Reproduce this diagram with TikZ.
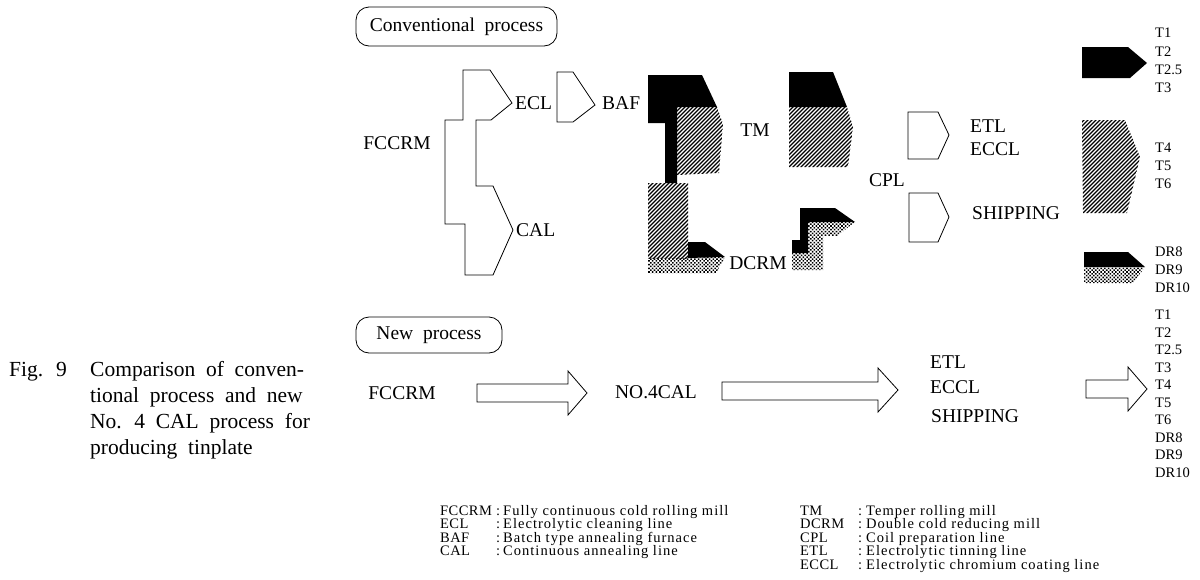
\documentclass[tikz,border=0pt]{standalone}
\usepackage{fontspec}
\setmainfont{Liberation Serif}
\usetikzlibrary{patterns,patterns.meta}
\newcommand\hatchfill[1]{%
  \begin{scope}
    \clip #1;
    \foreach \k in {780,784,...,1340}
      \draw[line width=1.3pt] (\k-300,300) -- (\k,0);
  \end{scope}}
\newcommand\capfont{\fontsize{21.5}{24}\selectfont\spaceskip=0.5em plus 0.1em\relax}
\newcommand\legfont{\fontsize{14.5}{16}\selectfont\addfontfeature{LetterSpace=7}}
\newcommand\legabbr{\fontsize{14.5}{16}\selectfont\addfontfeature{LetterSpace=3}}
\begin{document}
\begin{tikzpicture}[x=1pt,y=-1pt,
  lbl/.style={inner sep=0pt, font=\fontsize{19.5}{22}\selectfont},
  sm/.style={inner sep=0pt, anchor=west, font=\fontsize{14.5}{16}\selectfont},
  leg/.style={inner sep=0pt, anchor=base west, font=\legfont},
  legab/.style={inner sep=0pt, anchor=base west, font=\legabbr},
  captext/.style={inner sep=0pt, anchor=base west, font=\capfont},
  outl/.style={draw=black, line width=0.8pt, line join=miter},
  dotsq/.style={pattern={Dots[distance=2.6pt, radius=1.1pt, angle=45]}},
  blk/.style={fill=black}]
\useasboundingbox (0,0) rectangle (1200,579);

% ---------------- Conventional process ----------------
\draw[line width=0.8pt, rounded corners=13pt] (356,7) rectangle (557,46);
\node[lbl] (conv) at (456.5,27) {Conventional\ \ process};

\node[lbl] (fccrm1) at (397,143) {FCCRM};
\draw[outl] (463,70) -- (490,70) -- (512,103) -- (491,120) -- (476,120) -- (476,186)
  -- (493,186) -- (513,230) -- (493,275) -- (465,275) -- (465,224) -- (445,224)
  -- (445,120) -- (463,120) -- cycle;
\node[lbl, anchor=west] (ecl) at (515,103) {ECL};
\node[lbl, anchor=west] (cal) at (516,230) {CAL};
\draw[outl] (557,72) -- (573,72) -- (595,105) -- (573,122) -- (557,122) -- cycle;
\node[lbl, anchor=west] (baf) at (602,103) {BAF};

% BAF output shape
\fill[blk] (648,75) -- (702,75) -- (717,107) -- (677,107) -- (677,183) -- (665,183) -- (665,123) -- (648,123) -- cycle;
\hatchfill{(677,107) -- (717,107) -- (723,124) -- (719,173) -- (677,175) -- cycle}
\hatchfill{(648,183) -- (688,183) -- (688,258) -- (648,258) -- cycle}
\fill[blk] (688,242) -- (705,242) -- (725,257) -- (688,258) -- cycle;
\fill[dotsq] (648,258) -- (725,257) -- (716,273) -- (648,273) -- cycle;

\node[lbl] (tm) at (755,130) {TM};
\fill[blk] (789,72) -- (833,72) -- (847,107) -- (789,107) -- cycle;
\hatchfill{(789,107) -- (847,107) -- (853,127) -- (848,167) -- (789,167) -- cycle}

\node[lbl] (dcrm) at (758,263) {DCRM};
\fill[blk] (800,208) -- (835,208) -- (855,222) -- (808,222) -- (808,253) -- (792,253) -- (792,240) -- (800,240) -- cycle;
\fill[dotsq] (808,222) -- (855,222) -- (837,236) -- (823,236) -- (823,270) -- (792,270) -- (792,253) -- (808,253) -- cycle;

\node[lbl] (cpl) at (887,180) {CPL};
\draw[outl] (908,112) -- (938,112) -- (949,135) -- (938,159) -- (908,159) -- cycle;
\draw[outl] (909,193) -- (938,193) -- (949,217) -- (938,242) -- (909,242) -- cycle;
\node[lbl, anchor=west] (etl1) at (970,126) {ETL};
\node[lbl, anchor=west] (eccl1) at (970,149) {ECCL};
\node[lbl, anchor=west] (ship1) at (972,213) {SHIPPING};

% right products
\fill[blk] (1082,47) -- (1128,47) -- (1147,63) -- (1130,78) -- (1082,78) -- cycle;
\node[sm] (t1a) at (1155,33) {T1};
\node[sm] (t2a) at (1155,52) {T2};
\node[sm] (t25a) at (1155,70) {T2.5};
\node[sm] (t3a) at (1155,88) {T3};
\hatchfill{(1082,120) -- (1125,120) -- (1140,157) -- (1127,213) -- (1083,213) -- cycle}
\node[sm] (t4a) at (1155,148) {T4};
\node[sm] (t5a) at (1155,166) {T5};
\node[sm] (t6a) at (1155,184) {T6};
\fill[blk] (1084,252) -- (1128,252) -- (1145,267) -- (1084,267) -- cycle;
\fill[dotsq] (1084,267) -- (1145,267) -- (1133,283) -- (1084,283) -- cycle;
\node[sm] (dr8a) at (1155,252) {DR8};
\node[sm] (dr9a) at (1155,270) {DR9};
\node[sm] (dr10a) at (1155,288) {DR10};

% ---------------- New process ----------------
\draw[line width=0.8pt, rounded corners=13pt] (356,317) rectangle (502,353);
\node[lbl] (new) at (429,335) {New\ \ process};

\node[captext] (fig) at (9,376) {Fig.};
\node[captext] (fignum) at (56,376) {9};
\node[captext] (c1) at (90,376) {Comparison of conven-};
\node[captext] (c2) at (90,402) {tional process and new};
\node[captext] (c3) at (90,428) {No. 4 CAL process for};
\node[captext] (c4) at (90,454) {producing tinplate};

\node[lbl] (fccrm2) at (402,393) {FCCRM};
\draw[outl] (477,384) -- (568,384) -- (568,371) -- (587,393) -- (568,415) -- (568,402) -- (477,402) -- cycle;
\node[lbl] (cal4) at (656,392) {NO.4CAL};
\draw[outl] (722,382) -- (878,382) -- (878,368) -- (898,390) -- (878,412) -- (878,400) -- (722,400) -- cycle;
\node[lbl, anchor=west] (etl2) at (930,362) {ETL};
\node[lbl, anchor=west] (eccl2) at (930,387) {ECCL};
\node[lbl, anchor=west] (ship2) at (931,416) {SHIPPING};
\draw[outl] (1086,380) -- (1128,380) -- (1128,367) -- (1147,389) -- (1128,411) -- (1128,398) -- (1086,398) -- cycle;

\foreach \t [count=\i from 0] in {T1,T2,T2.5,T3,T4,T5,T6,DR8,DR9,DR10}
  \node[sm] (tb\i) at (1155,{315+17.5*\i}) {\t};

% ---------------- Legend ----------------
\foreach \a/\b [count=\i from 0] in {FCCRM/Fully continuous cold rolling mill,
    ECL/Electrolytic cleaning line, BAF/Batch type annealing furnace,
    CAL/Continuous annealing line} {
  \node[legab] (la\i) at (440,{515+13.5*\i}) {\a};
  \node[leg] (lc\i) at (496,{515+13.5*\i}) {:};
  \node[leg] (lt\i) at (503,{515+13.5*\i}) {\b};
}
\foreach \a/\b [count=\i from 0] in {TM/Temper rolling mill,
    DCRM/Double cold reducing mill, CPL/Coil preparation line,
    ETL/Electrolytic tinning line, ECCL/Electrolytic chromium coating line} {
  \node[legab] (ra\i) at (800,{515+13.5*\i}) {\a};
  \node[leg] (rc\i) at (858,{515+13.5*\i}) {:};
  \node[leg] (rt\i) at (866,{515+13.5*\i}) {\b};
}
\end{tikzpicture}
\end{document}
